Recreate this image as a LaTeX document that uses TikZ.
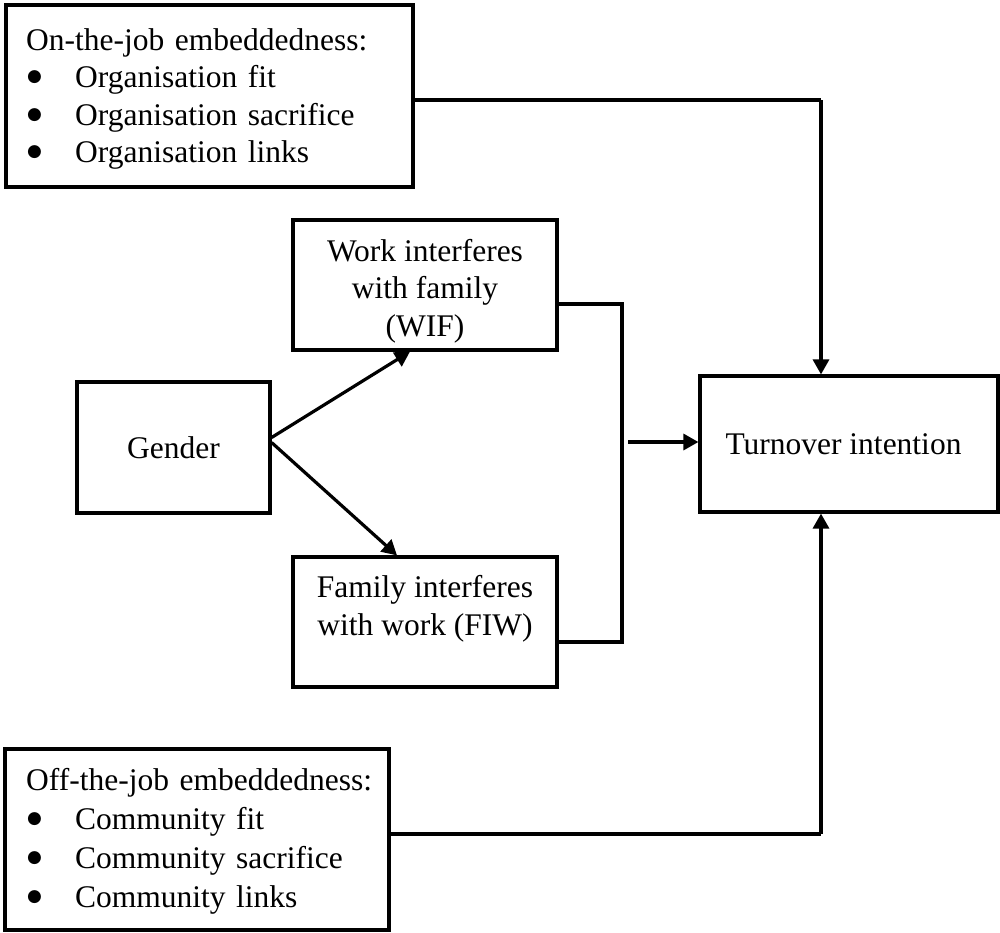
\documentclass[tikz,border=0pt]{standalone}
\usepackage{fontspec}
\setmainfont{Liberation Serif}
\newfontfamily\bulletfont{DejaVu Sans}
\usetikzlibrary{arrows.meta}
% bullet item: round bullet, tab stop for the item text
\newcommand{\bulletitem}[1]{\makebox[49pt][l]{\hspace{1pt}\raisebox{6pt}{\bulletfont\fontsize{17}{17}\selectfont ●}}#1}
\begin{document}
\begin{tikzpicture}[x=1pt,y=-1pt,
  txt/.style={font=\fontsize{31.5}{37.5}\selectfont, align=center, inner sep=0pt},
  listtxt/.style={txt, align=left, text width=380pt, anchor=west},
  box/.style={draw, rectangle, line width=3.2pt, inner sep=0pt},
  link/.style={line width=3.2pt},
  arr/.style={link, -{Triangle[length=15pt,width=16pt]}}]
\useasboundingbox (0,0) rectangle (1000,932);

% embeddedness boxes
\node[box, minimum width=407pt, minimum height=182pt] (onjob) at (209.5,96) {};
\node[listtxt] (onjobtext) at (26,99)
  {On-the-job embeddedness:\\
   \bulletitem{Organisation fit}\\
   \bulletitem{Organisation sacrifice}\\
   \bulletitem{Organisation links}};
\node[box, minimum width=384pt, minimum height=181pt] (offjob) at (197,839.5) {};
\node[listtxt, font=\fontsize{31.5}{39}\selectfont] (offjobtext) at (26,841)
  {Off-the-job embeddedness:\\
   \bulletitem{Community fit}\\
   \bulletitem{Community sacrifice}\\
   \bulletitem{Community links}};

% central model
\node[box, minimum width=193pt, minimum height=131pt] (gender) at (173.5,447.5) {};
\node[txt] (gendertext) at (173.5,447.5) {Gender};
\node[box, minimum width=264pt, minimum height=130pt] (wif) at (425,285) {};
\node[txt] (wiftext) at (425,291) {Work interferes\\with family\\(WIF)};
\node[box, minimum width=264pt, minimum height=130pt] (fiw) at (425,622) {};
\node[txt] (fiwtext) at (425,609) {Family interferes\\with work (FIW)};
\node[box, minimum width=298pt, minimum height=136pt] (turn) at (849,444) {};
\node[txt] (turntext) at (843.5,444) {Turnover intention};

% connectors
\coordinate (topbend) at (821,100);
\coordinate (botbend) at (821,834);
\coordinate (brtop) at (622,304);
\coordinate (brbot) at (622,642);
\coordinate (joinstart) at (628,442);

\draw[link] (onjob.east |- topbend) -- (topbend);
\draw[arr] (topbend) -- (topbend |- turn.north);
\draw[link] (offjob.east |- botbend) -- (botbend);
\draw[arr] (botbend) -- (botbend |- turn.south);

\draw[link] (wif.east |- brtop) -- (brtop) -- (brbot) -- (fiw.east |- brbot);
\draw[arr] (joinstart) -- (joinstart -| turn.west);

\draw[arr] ([yshift=10pt]gender.east) -- ([xshift=-15pt]wif.south);
\draw[arr] ([yshift=5pt]gender.east) -- ([xshift=-28pt]fiw.north);
\end{tikzpicture}
\end{document}
